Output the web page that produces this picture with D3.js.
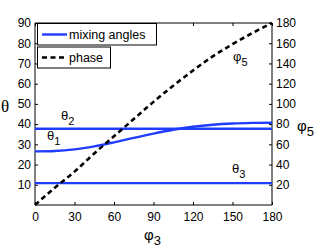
<!DOCTYPE html>
<html><head><meta charset="utf-8">
<script src="https://cdn.jsdelivr.net/npm/d3@7"></script>
<style>
html,body{margin:0;padding:0;background:#fff;}
text{font-family:"Liberation Sans",Arial,sans-serif;fill:#000;}
</style></head>
<body>
<svg id="c" width="316" height="249"></svg>
<script>
// ---- data ----
const phi3 = [0, 15, 30, 45, 60, 75, 90, 105, 120, 135, 150, 165, 180];
const theta1 = [26.5, 26.7, 27.5, 29, 31, 33.2, 35.3, 37.2, 38.7, 39.7, 40.3, 40.6, 40.7];
const theta2 = [37.7, 37.7, 37.7, 37.7, 37.7, 37.7, 37.7, 37.7, 37.7, 37.7, 37.7, 37.7, 37.7];
const theta3 = [10.8, 10.8, 10.8, 10.8, 10.8, 10.8, 10.8, 10.8, 10.8, 10.8, 10.8, 10.8, 10.8];
const phase = [0, 17, 33, 51, 68, 85, 102, 118, 133, 147, 159, 170, 180];
const xTicks = [0, 30, 60, 90, 120, 150, 180];
const yLeftTicks = [10, 20, 30, 40, 50, 60, 70, 80, 90];
const yRightTicks = [20, 40, 60, 80, 100, 120, 140, 160, 180];

const svg = d3.select("#c");
const L = 35, R = 272, T = 23, B = 205;
const x = d3.scaleLinear().domain([0, 180]).range([L, R]);
const yL = d3.scaleLinear().domain([0, 90]).range([B, T]);
const yR = d3.scaleLinear().domain([0, 180]).range([B, T]);
const blue = "#1f3cff";

// axes (inward ticks, MATLAB box)
const gB = svg.append("g").attr("transform", `translate(0,${B})`)
  .call(d3.axisBottom(x).tickValues(xTicks).tickSize(-3).tickPadding(7).tickFormat(d3.format("d")));
const gT = svg.append("g").attr("transform", `translate(0,${T})`)
  .call(d3.axisTop(x).tickValues(xTicks).tickSize(-3).tickFormat(""));
const gL = svg.append("g").attr("transform", `translate(${L},0)`)
  .call(d3.axisLeft(yL).tickValues(yLeftTicks).tickSize(-3).tickPadding(4).tickFormat(d3.format("d")));
const gR = svg.append("g").attr("transform", `translate(${R},0)`)
  .call(d3.axisRight(yR).tickValues(yRightTicks).tickSize(-3).tickPadding(4).tickFormat(d3.format("d")));
[gB, gT, gL, gR].forEach(g => {
  g.select(".domain").attr("stroke", "#000").attr("stroke-width", 1);
  g.selectAll(".tick line").attr("stroke", "#000");
  g.selectAll(".tick text").style("font-size", "12px").style("font-family", '"Liberation Sans",Arial,sans-serif').attr("fill", "#000");
});
gT.select(".domain").attr("d", `M${L},0H${R}`);
gB.select(".domain").attr("d", `M${L},0H${R}`);
gL.select(".domain").attr("d", `M0,${T}V${B}`);
gR.select(".domain").attr("d", `M0,${T}V${B}`);

// lines
const lineL = (arr) => d3.line().curve(d3.curveMonotoneX)
  .x((d, i) => x(phi3[i])).y(d => yL(d))(arr);
const lineR = (arr) => d3.line().curve(d3.curveMonotoneX)
  .x((d, i) => x(phi3[i])).y(d => yR(d))(arr);
[theta1, theta2, theta3].forEach(s => {
  svg.append("path").attr("d", lineL(s)).attr("fill", "none")
    .attr("stroke", blue).attr("stroke-width", 2.4);
});
svg.append("path").attr("d", lineR(phase)).attr("fill", "none")
  .attr("stroke", "#000").attr("stroke-width", 2.6).attr("stroke-dasharray", "5,3.5");

// annotations
function greek(xp, yp, ch, sub, size) {
  const t = svg.append("text").attr("x", xp).attr("y", yp).style("font-size", size || "13px");
  t.append("tspan").text(ch);
  t.append("tspan").attr("dy", 5).style("font-size", "11px").text(sub);
}
greek(61, 120, "θ", "2");
greek(47, 140, "θ", "1");
greek(232, 173, "θ", "3");
greek(233, 61, "φ", "5");

// axis labels
svg.append("text").attr("x", 1).attr("y", 112).style("font-family", '"Liberation Serif",serif')
  .style("font-size", "17px").text("θ");
const r5 = svg.append("text").attr("x", 297).attr("y", 131).style("font-size", "15px");
r5.append("tspan").text("φ");
r5.append("tspan").attr("dy", 5).style("font-size", "13px").text("5");
const b3 = svg.append("text").attr("x", 144).attr("y", 240).style("font-size", "15px");
b3.append("tspan").text("φ");
b3.append("tspan").attr("dy", 5).style("font-size", "13px").text("3");

// legends
svg.append("rect").attr("x", 37.5).attr("y", 23.5).attr("width", 119).attr("height", 21.5)
  .attr("fill", "#fff").attr("stroke", "#000").attr("stroke-width", 1);
svg.append("line").attr("x1", 42).attr("x2", 67).attr("y1", 34.5).attr("y2", 34.5)
  .attr("stroke", blue).attr("stroke-width", 2.4);
svg.append("text").attr("x", 69).attr("y", 39).style("font-size", "12.5px").text("mixing angles");
svg.append("rect").attr("x", 37.5).attr("y", 47).attr("width", 73).attr("height", 21)
  .attr("fill", "#fff").attr("stroke", "#000").attr("stroke-width", 1);
svg.append("line").attr("x1", 42).attr("x2", 67).attr("y1", 57.5).attr("y2", 57.5)
  .attr("stroke", "#000").attr("stroke-width", 2.6).attr("stroke-dasharray", "5,3.5");
svg.append("text").attr("x", 69).attr("y", 62).style("font-size", "12.5px").text("phase");
</script>
</body></html>
